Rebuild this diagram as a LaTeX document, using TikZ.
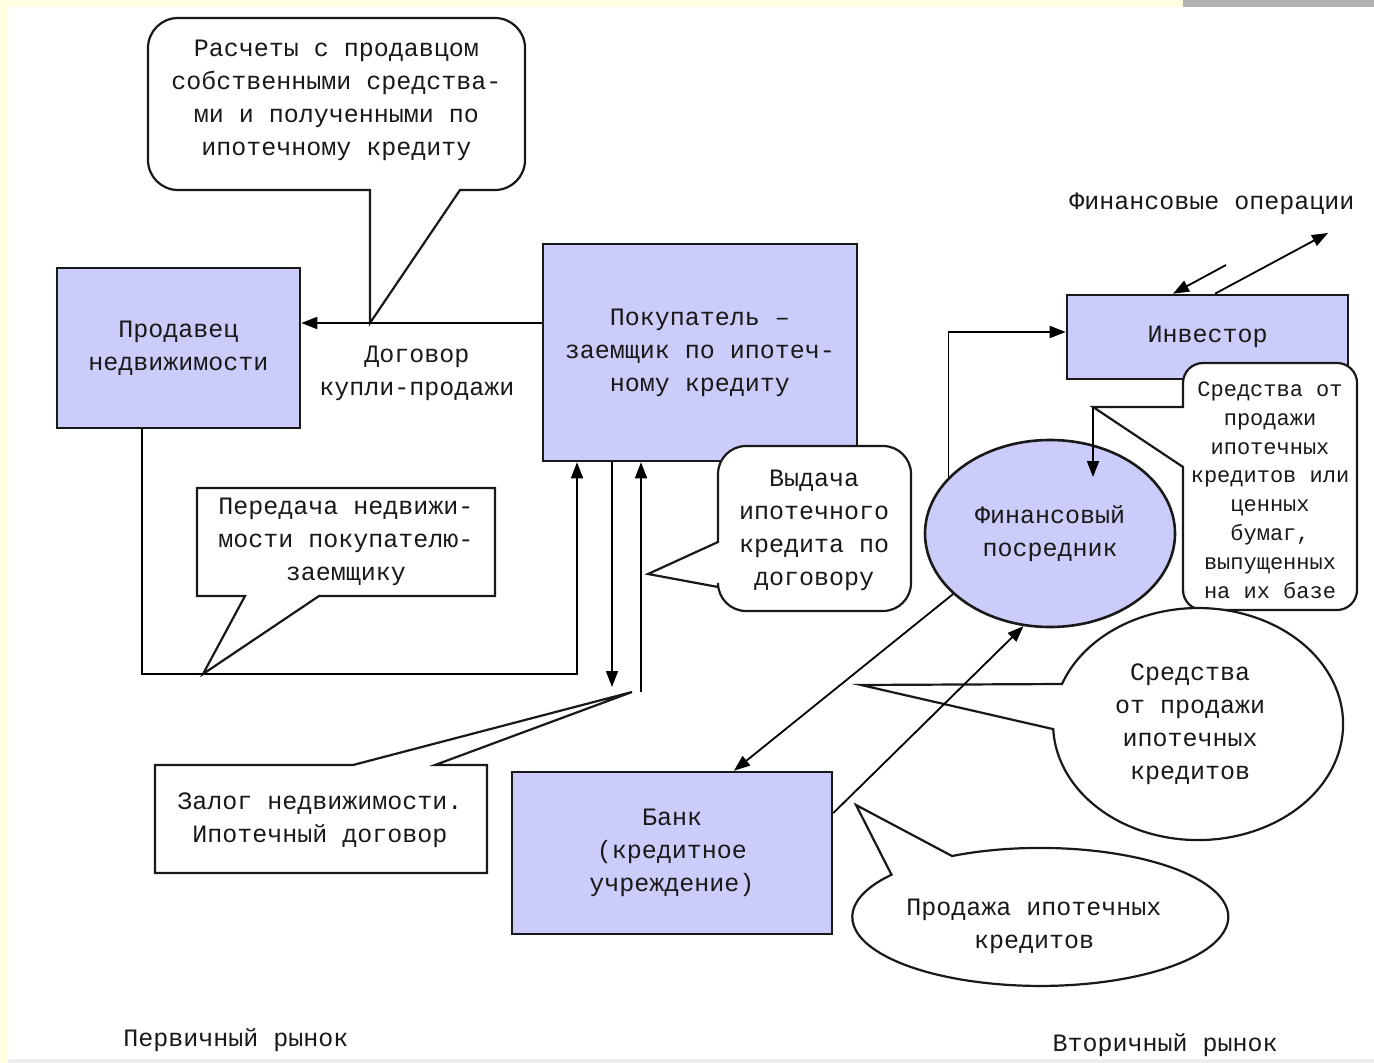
\documentclass[tikz,border=0pt]{standalone}
\usepackage{fontspec}
\setmainfont{Liberation Mono}
\usetikzlibrary{arrows.meta,shapes.geometric}
\definecolor{boxfill}{RGB}{204,204,250}
\definecolor{framey}{RGB}{255,255,226}
\tikzset{unit/.style={draw=black!90, line width=1.3pt, fill=boxfill, align=center, inner sep=0pt},
sz/.style 2 args={minimum width=#1*0.5pt, minimum height=#2*0.5pt},
bubble/.style={draw=black!90, line width=1.1pt, fill=white},
smalltxt/.style={font=\fontsize{11}{14.4}\selectfont},
%arrow tip used by every connector
arr/.style={line width=0.9pt, -{Triangle[length=8pt,width=6pt]}}}

\begin{document}
\begin{tikzpicture}[x=0.5pt, y=-0.5pt, font=\fontsize{12.5}{16.5}\selectfont, text=black!90]

\useasboundingbox (0,0) rectangle (1374,1063);
\fill[framey] (0,0) rectangle (1183,7);
\fill[black!30] (1183,0) rectangle (1374,7);
\fill[framey] (0,7) rectangle (8,1063);
\fill[black!7] (8,1059) rectangle (1374,1063);

\coordinate (calctip) at (370,323);
\coordinate (handtip) at (203,674);
\coordinate (pledgetip) at (632,692);
\coordinate (issuetip) at (648,574);
\coordinate (fundtip) at (1093,407);
\coordinate (fundend) at (1093,477);

\coordinate (s1) at (142,674);
\coordinate (b1) at (577,674);
\coordinate (b2) at (612,687);
\coordinate (b3) at (641,692);
\coordinate (i1) at (947,332);
\coordinate (bk1) at (734,772);
\coordinate (bk2) at (832,813);
\coordinate (op1) at (1226,265);
\coordinate (op1e) at (1173,295);
\coordinate (op2) at (1328,233);
\coordinate (op2s) at (1215,295);

% participants
\node[unit, sz={243}{160}] (seller) at (178.5,348) {Продавец\\недвижимости};
\node[unit, sz={314}{217}] (buyer) at (700,352.5) {Покупатель –\\заемщик по ипотеч-\\ному кредиту};
\node[unit, sz={320}{162}] (bank) at (672,853) {Банк\\(кредитное\\учреждение)};
\node[unit, sz={281}{84}] (inv) at (1207.5,337) {Инвестор};
\node[unit, ellipse, sz={250}{187}] (fin) at (1050,533.5) {Финансовый\\посредник};

% callouts
\draw[bubble] (460,190) -- (calctip) -- (370,190) [rounded corners=15pt] -- (148,190) -- (148,18) -- (525,18) -- (525,190) [sharp corners] -- cycle;
\draw[bubble] (245,596) -- (handtip) -- (319,596) -- (495,596) -- (495,488) -- (197,488) -- (197,596) -- cycle;
\draw[bubble] (353,765) -- (pledgetip) -- (435,765) -- (487,765) -- (487,873) -- (155,873) -- (155,765) -- cycle;
\draw[bubble] (718,587) -- (issuetip) -- (718,542) [rounded corners=14pt] -- (718,446) -- (911,446) -- (911,611) -- (718,611) [sharp corners] -- cycle;
\draw[bubble] (1183,467) -- (fundtip) -- (1183,407) [rounded corners=10pt] -- (1183,363) -- (1357,363) -- (1357,610) -- (1183,610) [sharp corners] -- cycle;
\draw[bubble] (861,685) -- (1062,684) arc[start angle=200.2, end angle=537.5, x radius=145, y radius=116] -- cycle;
\draw[bubble] (856,805) -- (952,856) arc[start angle=242, end angle=577.7, x radius=188, y radius=69] -- cycle;

\node[align=center] (calctxt) at (336.5,100) {Расчеты с продавцом\\собственными средства-\\ми и полученными по\\ипотечному кредиту};
\node[align=center] (handtxt) at (346,542) {Передача недвижи-\\мости покупателю-\\заемщику};
\node[align=center] (pledgetxt) at (320,820) {Залог недвижимости.\\Ипотечный договор};
\node[align=center] (issuetxt) at (814,530) {Выдача\\ипотечного\\кредита по\\договору};
\node[align=center, smalltxt] (saletxt) at (1270,490) {Средства от\\продажи\\ипотечных\\кредитов или\\ценных\\бумаг,\\выпущенных\\на их базе};
\node[align=center] (fundtxt) at (1190,724) {Средства\\от продажи\\ипотечных\\кредитов};
\node[align=center] (selltxt) at (1034,926) {Продажа ипотечных\\кредитов};

% free labels
\node[align=center] (contract) at (417,373) {Договор\\купли-продажи};
\node (ops) at (1212,204) {Финансовые операции};
\node (prim) at (236,1040) {Первичный рынок};
\node (sec) at (1165,1045) {Вторичный рынок};

% flows
\draw[arr] (buyer.west |- calctip) -- (seller.east |- calctip);
\draw[arr] (seller.south -| s1) -- (s1) -- (b1) -- (buyer.south -| b1);
\draw[arr] (buyer.south -| b2) -- (b2);
\draw[arr] (b3) -- (buyer.south -| b3);
\draw[arr] (fin.151) |- (inv.west |- i1);
\draw[arr] (fundtip) -- (fundend);
\draw[arr] (fin.212) -- (bank.north -| bk1);
\draw[arr] (bank.east |- bk2) -- (fin.254);
\draw[arr] (op1) -- (inv.north -| op1e);
\draw[arr] (inv.north -| op2s) -- (op2);

\end{tikzpicture}
\end{document}
